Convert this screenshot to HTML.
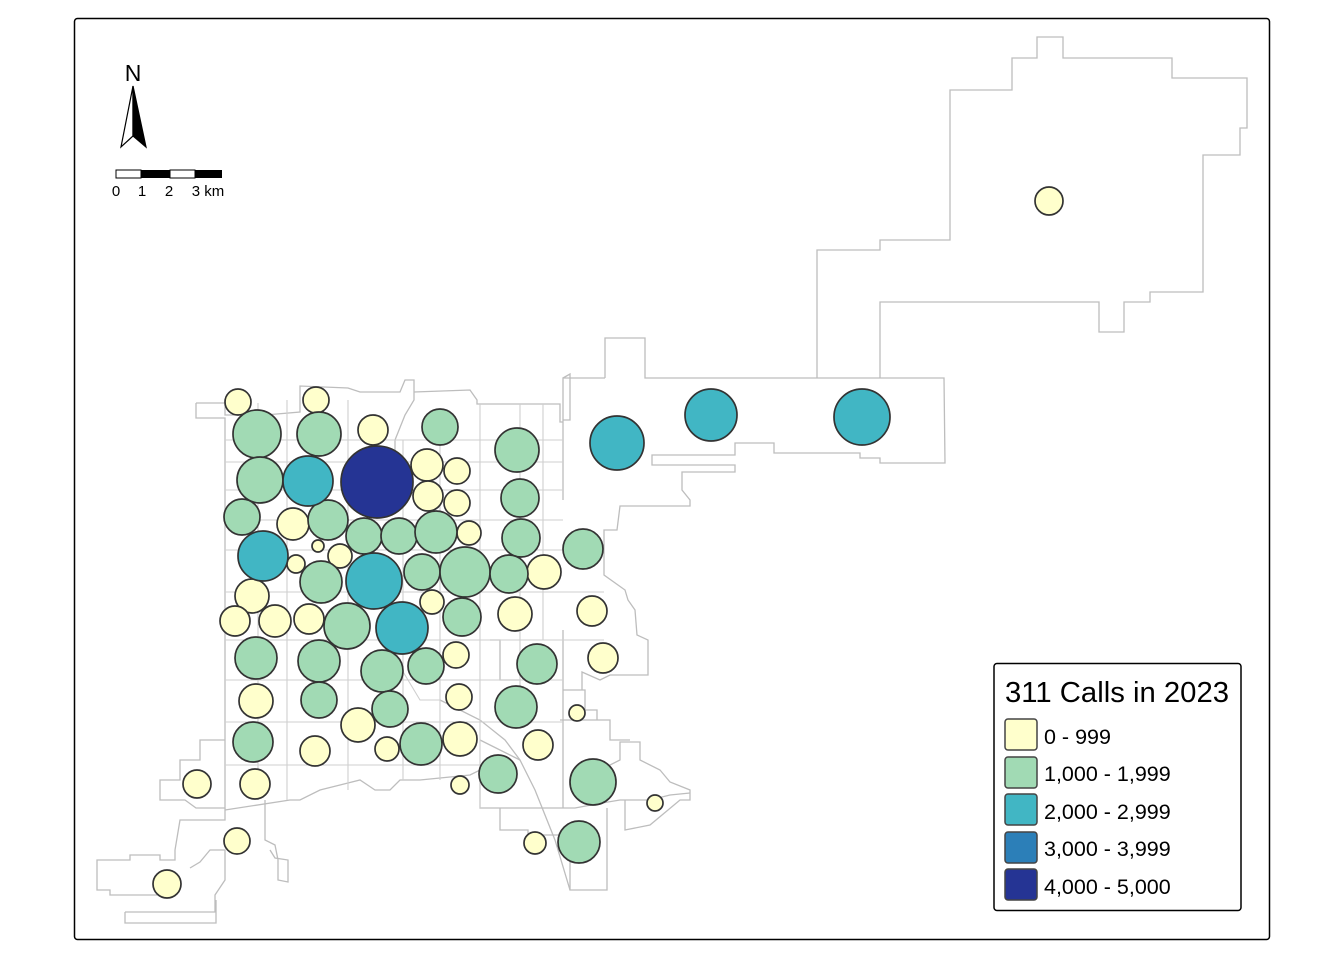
<!DOCTYPE html>
<html><head><meta charset="utf-8"><style>
html,body{margin:0;padding:0;background:#fff}
svg{display:block;font-family:"Liberation Sans",Arial,sans-serif}
</style></head><body>
<svg width="1344" height="960" viewBox="0 0 1344 960" xmlns="http://www.w3.org/2000/svg">
<rect x="0" y="0" width="1344" height="960" fill="#fff"/>
<rect x="74.5" y="18.5" width="1195" height="921" rx="3" fill="none" stroke="#000" stroke-width="1.5"/>
<g fill="none" stroke="#bdbdbd" stroke-width="1.3">
<polyline points="817,378 817,250 880,250 880,240 950,240 950,90 1012,90 1012,58 1037,58 1037,37 1063,37 1063,58 1172,58 1172,78 1247,78 1247,128 1240,128 1240,155 1203,155 1203,292 1150,292 1150,302 1124,302 1124,332 1099,332 1099,302 880,302 880,378"/>
<polyline points="605,378 605,338 645,338 645,378 944,378 945,463 880,463 880,458 860,458 860,453 774,453 774,443 735,443 735,455 652,455 652,465 735,465 735,472 682,472 682,490 690,500 690,506 620,506 617,530 604,530 604,575 625,590 628,600 635,610 637,635 648,640 648,675 610,675 600,680 582,672 582,690"/>
<polyline points="563,378 605,378 563,378 563,440 563,500"/>
<polyline points="563,378 570,374 570,420 563,420"/>
<polyline points="196,403 225,403 225,415 265,415 300,412 300,386 348,388 360,392 400,392 405,380 414,380 414,400 405,415 395,440 395,460 385,470"/>
<polyline points="414,392 470,390 477,400 477,404 560,404 560,422 563,422"/>
<polyline points="196,403 196,418 225,418 225,808 196,808 185,800 160,800 160,780 180,780 180,760 200,760 200,740 225,740"/>
<polyline points="225,808 225,820 180,820 175,850 175,860 160,860 160,855 130,855 130,860 97,860 97,890 110,890 110,895 160,895 160,895"/>
<polyline points="125,912 215,912 215,895 225,880 225,850 210,850 200,862 190,868"/>
<polyline points="125,912 125,923 216,923 216,900"/>
<polyline points="265,800 265,840 275,845 278,860 278,880 288,882 288,860 275,858 270,850"/>
<polyline points="225,810 290,800 300,800 320,790 340,785 360,780 375,790 390,790 400,780 420,780 470,775 480,770 480,808 575,808 602,803 620,800 650,800 670,795 690,793"/>
<polyline points="500,808 500,830 528,830 528,835 570,835 570,890 607,890 607,808"/>
<polyline points="625,800 625,830 650,825 680,800 690,800 690,790 670,782 660,770 640,760 640,742 620,742 620,760 600,770"/>
<polyline points="560,720 610,720 610,740 630,740"/>
<polyline points="563,690 585,690 585,710 597,710 597,720"/>
<polyline points="490,640 500,640 500,680 520,680"/>
<polyline points="563,630 563,808"/>
<polyline points="480,740 520,760 535,790 555,840 570,890"/>
<polyline points="440,700 480,720 505,740 520,760"/>
</g>
<g fill="none" stroke="#cfcfcf" stroke-width="1.1">
<polyline points="225,440 563,440"/>
<polyline points="225,462 563,462"/>
<polyline points="225,490 563,490"/>
<polyline points="225,520 563,520"/>
<polyline points="225,550 604,550"/>
<polyline points="225,592 604,592"/>
<polyline points="225,640 604,640"/>
<polyline points="225,680 563,680"/>
<polyline points="225,722 563,722"/>
<polyline points="225,765 500,765"/>
<polyline points="258,403 258,800"/>
<polyline points="287,400 287,800"/>
<polyline points="348,400 348,790"/>
<polyline points="403,440 403,780"/>
<polyline points="440,440 440,780"/>
<polyline points="480,404 480,808"/>
<polyline points="520,404 520,700"/>
<polyline points="543,404 543,640"/>
<polyline points="380,600 390,650 420,700 440,700"/>
</g>
<g stroke="#333" stroke-width="1.7">
<g fill="#FFFFCC">
<circle cx="238" cy="402" r="13"/><circle cx="316" cy="400" r="13"/><circle cx="373" cy="430" r="15"/><circle cx="427" cy="465" r="16"/><circle cx="457" cy="471" r="13"/><circle cx="428" cy="496" r="15"/><circle cx="457" cy="503" r="13"/><circle cx="293" cy="524" r="16"/><circle cx="469" cy="533" r="12"/><circle cx="318" cy="546" r="6"/><circle cx="340" cy="556" r="12"/><circle cx="296" cy="564" r="9"/><circle cx="544" cy="572" r="17"/><circle cx="252" cy="596" r="17"/><circle cx="432" cy="602" r="12"/><circle cx="235" cy="621" r="15"/><circle cx="275" cy="621" r="16"/><circle cx="309" cy="619" r="15"/><circle cx="515" cy="614" r="17"/><circle cx="592" cy="611" r="15"/><circle cx="456" cy="655" r="13"/><circle cx="603" cy="658" r="15"/><circle cx="256" cy="701" r="17"/><circle cx="459" cy="697" r="13"/><circle cx="577" cy="713" r="8"/><circle cx="358" cy="725" r="17"/><circle cx="315" cy="751" r="15"/><circle cx="387" cy="749" r="12"/><circle cx="460" cy="739" r="17"/><circle cx="538" cy="745" r="15"/><circle cx="197" cy="784" r="14"/><circle cx="255" cy="784" r="15"/><circle cx="460" cy="785" r="9"/><circle cx="655" cy="803" r="8"/><circle cx="237" cy="841" r="13"/><circle cx="535" cy="843" r="11"/><circle cx="167" cy="884" r="14"/><circle cx="1049" cy="201" r="14"/>
</g>
<g fill="#A1DAB4">
<circle cx="257" cy="434" r="24"/><circle cx="319" cy="434" r="22"/><circle cx="440" cy="427" r="18"/><circle cx="517" cy="450" r="22"/><circle cx="260" cy="480" r="23"/><circle cx="242" cy="517" r="18"/><circle cx="328" cy="520" r="20"/><circle cx="364" cy="536" r="18"/><circle cx="399" cy="536" r="18"/><circle cx="436" cy="532" r="21"/><circle cx="520" cy="498" r="19"/><circle cx="521" cy="538" r="19"/><circle cx="583" cy="549" r="20"/><circle cx="321" cy="582" r="21"/><circle cx="422" cy="572" r="18"/><circle cx="465" cy="572" r="25"/><circle cx="509" cy="574" r="19"/><circle cx="462" cy="617" r="19"/><circle cx="347" cy="626" r="23"/><circle cx="256" cy="658" r="21"/><circle cx="319" cy="661" r="21"/><circle cx="382" cy="671" r="21"/><circle cx="426" cy="666" r="18"/><circle cx="537" cy="664" r="20"/><circle cx="319" cy="700" r="18"/><circle cx="390" cy="709" r="18"/><circle cx="516" cy="707" r="21"/><circle cx="253" cy="742" r="20"/><circle cx="421" cy="744" r="21"/><circle cx="498" cy="774" r="19"/><circle cx="593" cy="782" r="23"/><circle cx="579" cy="842" r="21"/>
</g>
<g fill="#41B6C4">
<circle cx="308" cy="481" r="25"/><circle cx="617" cy="443" r="27"/><circle cx="711" cy="415" r="26"/><circle cx="862" cy="417" r="28"/><circle cx="263" cy="556" r="25"/><circle cx="374" cy="581" r="28"/><circle cx="402" cy="628" r="26"/>
</g>
<circle cx="377" cy="482" r="36" fill="#253494"/>
</g>
<text x="133" y="81" font-size="23" text-anchor="middle" fill="#000">N</text>
<polygon points="133,86 121,147 133,136" fill="#fff" stroke="#000" stroke-width="1.2"/>
<polygon points="133,86 146,147 133,136" fill="#000" stroke="#000" stroke-width="1.2"/>
<rect x="116" y="170" width="25" height="8" fill="#fff" stroke="#000" stroke-width="1"/>
<rect x="141" y="170" width="29" height="8" fill="#000"/>
<rect x="170" y="170" width="25" height="8" fill="#fff" stroke="#000" stroke-width="1"/>
<rect x="195" y="170" width="27" height="8" fill="#000"/>
<g font-size="15" fill="#000" text-anchor="middle">
<text x="116" y="196">0</text><text x="142" y="196">1</text><text x="169" y="196">2</text><text x="208" y="196">3 km</text>
</g>
<rect x="994" y="663.5" width="247" height="247" rx="3" fill="#fff" stroke="#000" stroke-width="1.5"/>
<text x="1005" y="702" font-size="29" fill="#000" textLength="224" lengthAdjust="spacingAndGlyphs">311 Calls in 2023</text>
<g stroke="#444" stroke-width="1.5">
<rect x="1005" y="719" width="32" height="31" rx="3" fill="#FFFFCC"/>
<rect x="1005" y="757" width="32" height="31" rx="3" fill="#A1DAB4"/>
<rect x="1005" y="794" width="32" height="31" rx="3" fill="#41B6C4"/>
<rect x="1005" y="832" width="32" height="31" rx="3" fill="#2C7FB8"/>
<rect x="1005" y="869" width="32" height="31" rx="3" fill="#253494"/>
</g>
<g font-size="21.5" fill="#000">
<text x="1044" y="744">0 - 999</text>
<text x="1044" y="781">1,000 - 1,999</text>
<text x="1044" y="819">2,000 - 2,999</text>
<text x="1044" y="856">3,000 - 3,999</text>
<text x="1044" y="894">4,000 - 5,000</text>
</g>
</svg>
</body></html>
